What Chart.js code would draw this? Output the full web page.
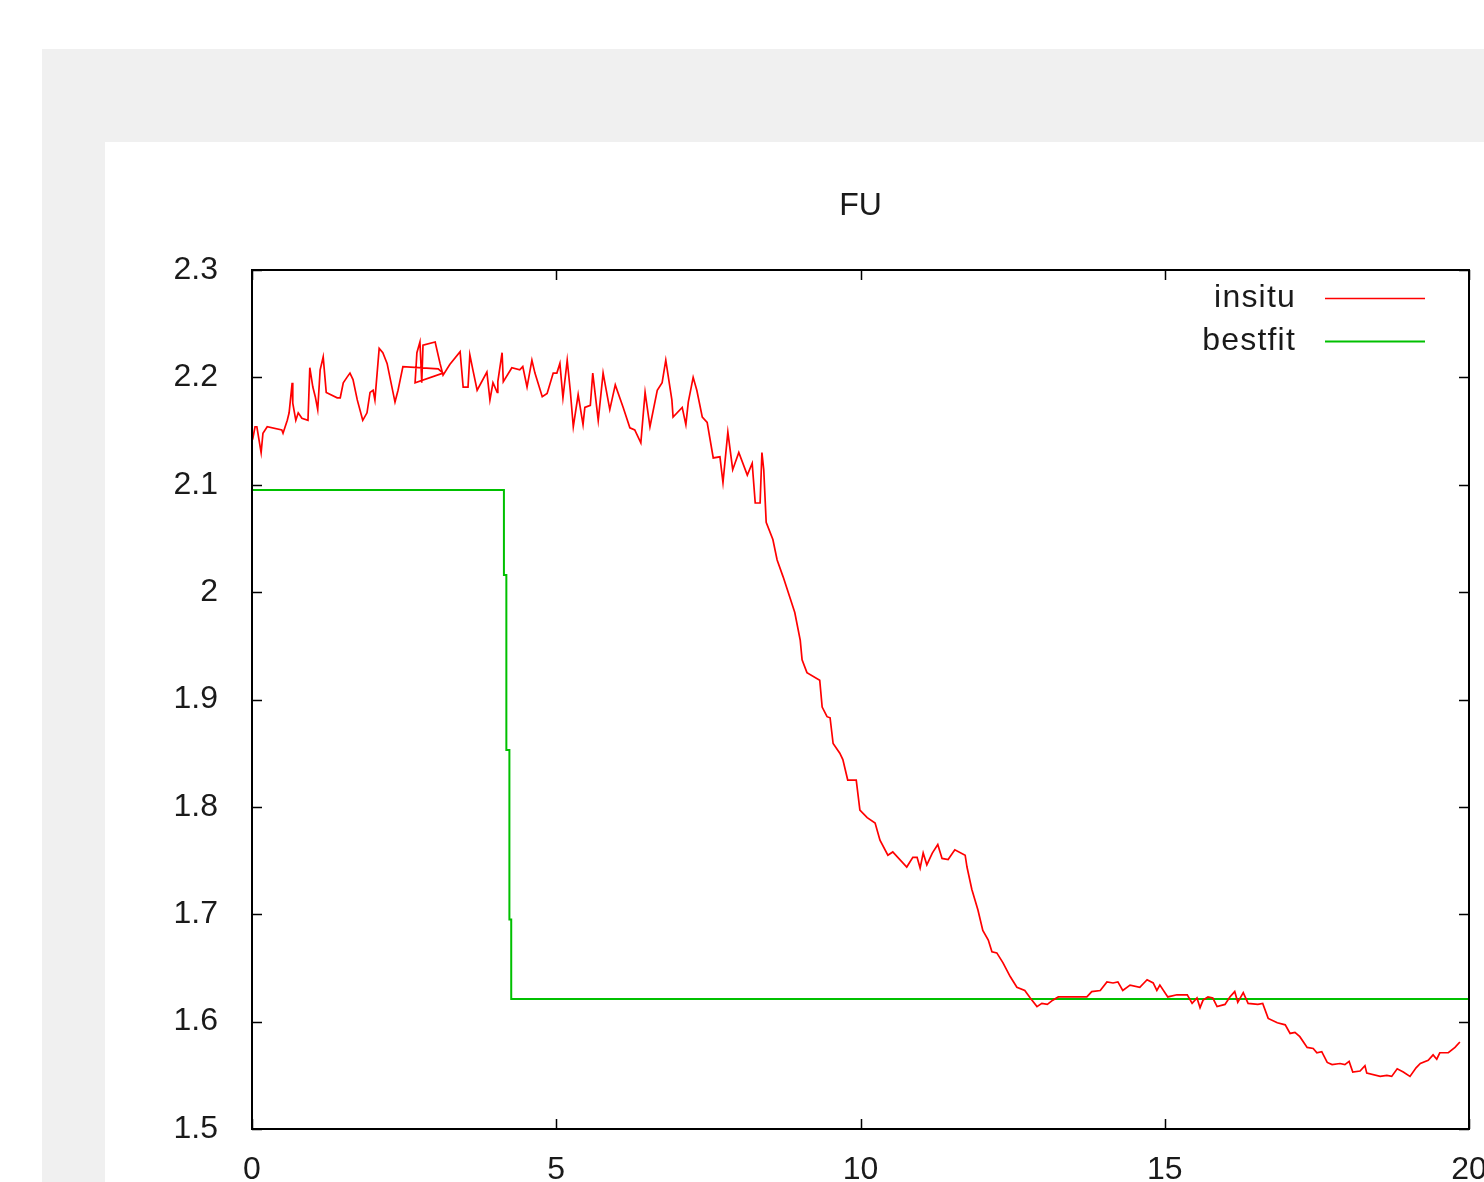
<!DOCTYPE html>
<html>
<head>
<meta charset="utf-8">
<title>FU</title>
<script src="https://cdn.jsdelivr.net/npm/chart.js@4.4.0/dist/chart.umd.min.js"></script>
<style>
  html, body { margin: 0; padding: 0; width: 1484px; height: 1182px; overflow: hidden; background: #fff; }
  #moldura { position: absolute; left: 42px; top: 49px; width: 1600px; height: 1300px; background: #f0f0f0; }
  #painel { position: absolute; left: 105px; top: 142px; width: 1600px; height: 1300px; background: #fff; }
  #grafico { position: absolute; left: 0; top: 0; }
</style>
</head>
<body>
<div id="moldura"></div>
<div id="painel"></div>
<canvas id="grafico" width="1600" height="1300"></canvas>
<script>
// Curva medida (insitu), lida ponto a ponto da figura.
const insituX = [
  0.01, 0.05, 0.08, 0.15, 0.18, 0.25, 0.49, 0.51, 0.58, 0.61,
  0.66, 0.67, 0.72, 0.76, 0.82, 0.92, 0.95, 1.00, 1.04, 1.08,
  1.12, 1.17, 1.22, 1.40, 1.45, 1.50, 1.56, 1.61, 1.66, 1.73,
  1.82, 1.89, 1.94, 1.99, 2.02, 2.09, 2.15, 2.22, 2.35, 2.40,
  2.48, 3.06, 3.14, 2.68, 2.71, 2.76, 2.79, 2.81, 3.01, 3.09,
  3.14, 3.25, 3.42, 3.47, 3.55, 3.58, 3.63, 3.70, 3.86, 3.91,
  3.96, 4.03, 4.04, 4.11, 4.13, 4.27, 4.40, 4.45, 4.52, 4.60,
  4.65, 4.77, 4.85, 4.95, 5.01, 5.06, 5.11, 5.18, 5.23, 5.28,
  5.36, 5.44, 5.47, 5.56, 5.60, 5.69, 5.77, 5.88, 5.97, 6.10,
  6.21, 6.29, 6.39, 6.46, 6.54, 6.66, 6.74, 6.80, 6.90, 6.92,
  7.07, 7.13, 7.17, 7.25, 7.31, 7.40, 7.48, 7.58, 7.69, 7.74,
  7.82, 7.90, 8.00, 8.14, 8.22, 8.27, 8.35, 8.38, 8.41, 8.45,
  8.56, 8.63, 8.73, 8.84, 8.92, 9.01, 9.04, 9.12, 9.33, 9.37,
  9.45, 9.50, 9.55, 9.66, 9.71, 9.79, 9.93, 9.99, 10.11, 10.24,
  10.32, 10.45, 10.53, 10.76, 10.86, 10.93, 10.98, 11.03, 11.09, 11.18,
  11.27, 11.34, 11.44, 11.55, 11.72, 11.75, 11.83, 11.93, 12.01, 12.10,
  12.16, 12.24, 12.34, 12.46, 12.57, 12.70, 12.79, 12.90, 12.98, 13.07,
  13.16, 13.25, 13.49, 13.72, 13.80, 13.94, 14.05, 14.15, 14.23, 14.31,
  14.43, 14.59, 14.71, 14.81, 14.87, 14.92, 15.05, 15.20, 15.37, 15.45,
  15.53, 15.58, 15.63, 15.71, 15.79, 15.86, 15.99, 16.07, 16.15, 16.20,
  16.29, 16.37, 16.53, 16.61, 16.70, 16.85, 16.98, 17.06, 17.14, 17.22,
  17.34, 17.44, 17.50, 17.58, 17.67, 17.75, 17.88, 17.96, 18.03, 18.09,
  18.21, 18.29, 18.32, 18.54, 18.65, 18.73, 18.82, 18.92, 19.03, 19.13,
  19.20, 19.33, 19.41, 19.47, 19.52, 19.66, 19.77, 19.85,
];
const insituY = [
  2.142, 2.154, 2.154, 2.130, 2.148, 2.154, 2.151, 2.148, 2.160, 2.167,
  2.195, 2.176, 2.160, 2.167, 2.162, 2.160, 2.209, 2.191, 2.182, 2.170,
  2.207, 2.219, 2.186, 2.181, 2.181, 2.195, 2.200, 2.204, 2.198, 2.179,
  2.160, 2.167, 2.186, 2.188, 2.179, 2.227, 2.223, 2.213, 2.177, 2.188,
  2.210, 2.208, 2.204, 2.195, 2.223, 2.233, 2.195, 2.230, 2.233, 2.213,
  2.202, 2.212, 2.224, 2.191, 2.191, 2.221, 2.207, 2.188, 2.205, 2.179,
  2.195, 2.186, 2.196, 2.223, 2.196, 2.209, 2.207, 2.210, 2.191, 2.216,
  2.204, 2.182, 2.185, 2.204, 2.204, 2.213, 2.181, 2.216, 2.188, 2.154,
  2.184, 2.156, 2.172, 2.174, 2.204, 2.160, 2.204, 2.170, 2.193, 2.172,
  2.153, 2.151, 2.139, 2.186, 2.154, 2.188, 2.195, 2.216, 2.179, 2.163,
  2.172, 2.156, 2.177, 2.200, 2.188, 2.163, 2.158, 2.125, 2.126, 2.102,
  2.149, 2.114, 2.130, 2.109, 2.120, 2.083, 2.083, 2.130, 2.114, 2.065,
  2.049, 2.030, 2.014, 1.995, 1.981, 1.955, 1.937, 1.925, 1.918, 1.893,
  1.884, 1.883, 1.859, 1.850, 1.844, 1.825, 1.825, 1.797, 1.790, 1.785,
  1.769, 1.755, 1.758, 1.744, 1.753, 1.753, 1.743, 1.757, 1.746, 1.757,
  1.765, 1.752, 1.751, 1.760, 1.755, 1.744, 1.723, 1.704, 1.685, 1.676,
  1.665, 1.664, 1.655, 1.642, 1.632, 1.629, 1.622, 1.614, 1.617, 1.616,
  1.620, 1.623, 1.623, 1.623, 1.628, 1.629, 1.637, 1.636, 1.637, 1.629,
  1.634, 1.632, 1.639, 1.636, 1.629, 1.634, 1.623, 1.625, 1.625, 1.617,
  1.622, 1.613, 1.620, 1.623, 1.622, 1.614, 1.616, 1.623, 1.628, 1.618,
  1.627, 1.617, 1.616, 1.617, 1.603, 1.599, 1.597, 1.589, 1.590, 1.586,
  1.576, 1.575, 1.571, 1.572, 1.562, 1.560, 1.561, 1.560, 1.563, 1.553,
  1.554, 1.559, 1.552, 1.549, 1.550, 1.549, 1.556, 1.553, 1.549, 1.557,
  1.561, 1.564, 1.569, 1.565, 1.571, 1.571, 1.576, 1.581,
];

// Ajuste em degrau (bestfit).
const bestfitX = [0, 4.14, 4.14, 4.18, 4.18, 4.23, 4.23, 4.26, 4.26, 20];
const bestfitY = [2.095, 2.095, 2.016, 2.016, 1.853, 1.853, 1.695, 1.695, 1.621, 1.621];

const xTicks = [0, 5, 10, 15, 20];
const yTicks = [1.5, 1.6, 1.7, 1.8, 1.9, 2.0, 2.1, 2.2, 2.3];
const yTickLabels = ["1.5", "1.6", "1.7", "1.8", "1.9", "2", "2.1", "2.2", "2.3"];

const TICK = 10;
const TEXTO = "#1a1a1a";

Chart.defaults.font.family = '"Liberation Sans", Arial, sans-serif';
Chart.defaults.font.size = 32;
Chart.defaults.color = TEXTO;

function pontos(xs, ys) {
  return xs.map((x, i) => ({ x, y: ys[i] }));
}

// Moldura estilo gnuplot: borda nos quatro lados e marcas para dentro.
const moldura = {
  id: "moldura",
  afterDatasetsDraw(chart) {
    const { ctx, chartArea: a, scales } = chart;
    ctx.save();
    ctx.strokeStyle = "#000";
    ctx.lineWidth = 1.5;
    ctx.beginPath();
    for (const t of scales.x.ticks) {
      const px = Math.round(scales.x.getPixelForValue(t.value)) + 0.5;
      ctx.moveTo(px, a.bottom); ctx.lineTo(px, a.bottom - TICK);
      ctx.moveTo(px, a.top); ctx.lineTo(px, a.top + TICK);
    }
    for (const t of scales.y.ticks) {
      const py = Math.round(scales.y.getPixelForValue(t.value)) + 0.5;
      ctx.moveTo(a.left, py); ctx.lineTo(a.left + TICK, py);
      ctx.moveTo(a.right, py); ctx.lineTo(a.right - TICK, py);
    }
    ctx.stroke();
    ctx.lineWidth = 2;
    ctx.strokeRect(a.left, a.top, a.right - a.left, a.bottom - a.top);
    ctx.restore();
  },
};

// Legenda no canto superior direito: texto à esquerda, amostra de linha à direita.
const legenda = {
  id: "legenda",
  afterDraw(chart) {
    const { ctx, chartArea: a } = chart;
    ctx.save();
    ctx.font = '32px "Liberation Sans", Arial, sans-serif';
    ctx.letterSpacing = "1.2px";
    ctx.textAlign = "right";
    ctx.textBaseline = "middle";
    chart.data.datasets.forEach((ds, i) => {
      const y = a.top + 28 + i * 43;
      ctx.fillStyle = TEXTO;
      ctx.fillText(ds.label, a.right - 173, y);
      ctx.strokeStyle = ds.borderColor;
      ctx.lineWidth = ds.borderWidth;
      ctx.beginPath();
      ctx.moveTo(a.right - 144, y + 0.5);
      ctx.lineTo(a.right - 44, y + 0.5);
      ctx.stroke();
    });
    ctx.restore();
  },
};

new Chart(document.getElementById("grafico"), {
  type: "scatter",
  data: {
    datasets: [
      {
        label: "insitu",
        data: pontos(insituX, insituY),
        showLine: true,
        borderColor: "#ff0000",
        borderWidth: 1.7,
        pointRadius: 0,
        tension: 0,
      },
      {
        label: "bestfit",
        data: pontos(bestfitX, bestfitY),
        showLine: true,
        borderColor: "#00c000",
        borderWidth: 2,
        pointRadius: 0,
        tension: 0,
      },
    ],
  },
  options: {
    responsive: false,
    animation: false,
    devicePixelRatio: 1,
    layout: { padding: { left: 172, right: 131, top: 0, bottom: 101 } },
    plugins: {
      legend: { display: false },
      tooltip: { enabled: false },
      title: {
        display: true,
        text: "FU",
        fullSize: false,
        font: { size: 32, weight: "normal" },
        padding: { top: 186.8, bottom: 44.8 },
      },
    },
    scales: {
      x: {
        type: "linear",
        min: 0,
        max: 20,
        grid: { display: false, drawTicks: false },
        border: { display: false },
        ticks: { padding: 22, maxRotation: 0 },
        afterBuildTicks: (s) => { s.ticks = xTicks.map((v) => ({ value: v })); },
        afterFit: (s) => { s.height = 70; },
      },
      y: {
        type: "linear",
        min: 1.5,
        max: 2.3,
        grid: { display: false, drawTicks: false },
        border: { display: false },
        ticks: {
          padding: 34,
          callback: (v, i) => yTickLabels[i],
        },
        afterBuildTicks: (s) => { s.ticks = yTicks.map((v) => ({ value: v })); },
        afterFit: (s) => { s.width = 80; },
      },
    },
  },
  plugins: [moldura, legenda],
});
</script>
</body>
</html>
